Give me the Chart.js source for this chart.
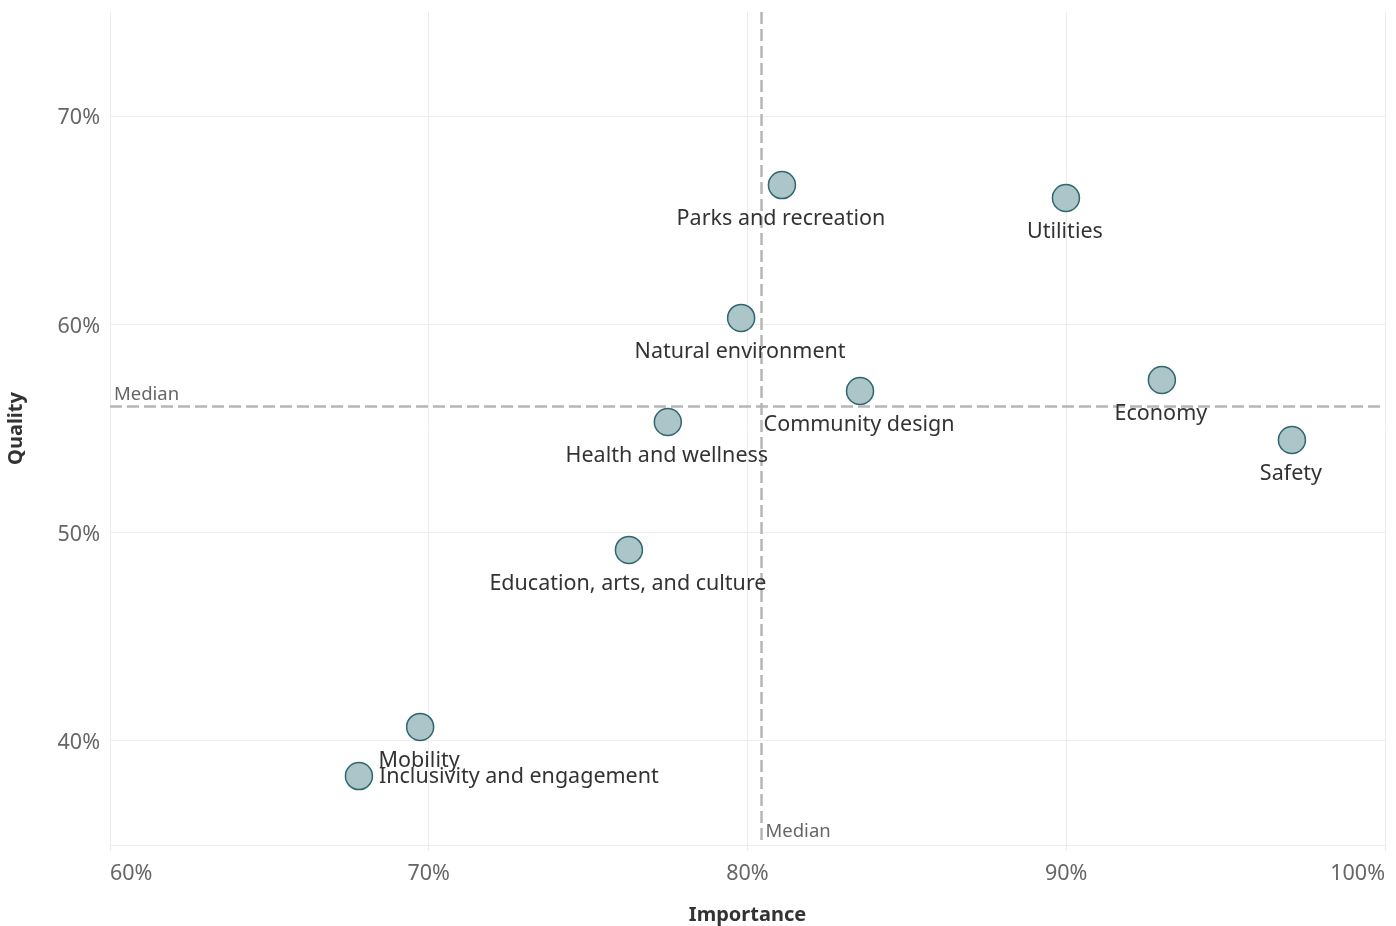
<!DOCTYPE html>
<html>
<head>
<meta charset="utf-8">
<script src="https://cdn.jsdelivr.net/npm/chart.js@4"></script>
<style>
  html, body { margin: 0; padding: 0; background: #fff; }
  #wrap { width: 1396px; height: 926px; position: relative; }
</style>
</head>
<body>
<div id="wrap"><canvas id="qualityChart"></canvas></div>
<script>
// values (percent)
const categories = ["Parks and recreation", "Utilities", "Natural environment", "Community design",
  "Economy", "Safety", "Health and wellness", "Education, arts, and culture", "Mobility",
  "Inclusivity and engagement"];
const importance = [81.08, 89.99, 79.8, 83.53, 93.0, 97.08, 77.5, 76.28, 69.73, 67.81];
const quality = [66.69, 66.07, 60.31, 56.8, 57.33, 54.45, 55.31, 49.17, 40.67, 38.31];
const xTicks = [60, 70, 80, 90, 100];
const yTicks = [40, 50, 60, 70];

function median(arr) {
  const s = [...arr].sort((a, b) => a - b);
  const m = Math.floor(s.length / 2);
  return s.length % 2 ? s[m] : (s[m - 1] + s[m]) / 2;
}
const medImportance = median(importance);
const medQuality = median(quality);

const FONT = "'Noto Sans', 'DejaVu Sans', sans-serif";

// median reference lines + their labels
const medianLines = {
  id: 'medianLines',
  afterDatasetsDraw(chart) {
    const { ctx, chartArea: a, scales: { x, y } } = chart;
    const mx = x.getPixelForValue(medImportance);
    const my = y.getPixelForValue(medQuality);
    ctx.save();
    ctx.strokeStyle = '#b6b6b6';
    ctx.lineWidth = 2.5;
    ctx.setLineDash([12, 5]);
    ctx.beginPath();
    ctx.moveTo(a.left, my); ctx.lineTo(a.right, my);
    ctx.moveTo(mx, a.top); ctx.lineTo(mx, a.bottom);
    ctx.stroke();
    ctx.setLineDash([]);
    ctx.fillStyle = '#666';
    ctx.font = `18.5px ${FONT}`;
    ctx.textBaseline = 'bottom';
    ctx.textAlign = 'left';
    ctx.fillText('Median', a.left + 4, my - 3);
    ctx.textBaseline = 'middle';
    ctx.fillText('Median', mx + 4, a.bottom - 13);
    ctx.restore();
  }
};

// text labels for every point
const pointLabels = {
  id: 'pointLabels',
  afterDatasetsDraw(chart) {
    const { ctx } = chart;
    const meta = chart.getDatasetMeta(0);
    ctx.save();
    ctx.fillStyle = '#333';
    ctx.font = `21.5px ${FONT}`;
    ctx.textBaseline = 'middle';
    meta.data.forEach((pt, i) => {
      const name = categories[i];
      if (name === 'Inclusivity and engagement') {
        ctx.textAlign = 'left';
        ctx.fillText(name, pt.x + 20, pt.y + 1);
      } else {
        ctx.textAlign = 'center';
        ctx.fillText(name, pt.x - 1, pt.y + 34);
      }
    });
    ctx.restore();
  }
};

new Chart(document.getElementById('qualityChart'), {
  type: 'scatter',
  data: {
    datasets: [{
      label: 'Quality vs importance',
      data: importance.map((v, i) => ({ x: v, y: quality[i] })),
      backgroundColor: '#abc5c8',
      borderColor: '#2f6670',
      borderWidth: 1.5,
      pointRadius: 13.5,
      pointHoverRadius: 13.5
    }]
  },
  options: {
    responsive: true,
    maintainAspectRatio: false,
    animation: false,
    layout: { autoPadding: false, padding: { top: 12, right: 11, left: 0, bottom: 0 } },
    plugins: {
      legend: { display: false },
      tooltip: { enabled: false }
    },
    scales: {
      x: {
        type: 'linear',
        min: 60, max: 100,
        afterBuildTicks: s => { s.ticks = xTicks.map(v => ({ value: v })); },
        afterFit: s => { s.height = 81; s.paddingLeft = 0; s.paddingRight = 0; },
        ticks: {
          align: 'inner',
          color: '#666',
          font: { family: FONT, size: 21.5 },
          padding: 10,
          maxRotation: 0,
          callback: v => v + '%'
        },
        grid: { color: '#ececec', lineWidth: 1, tickLength: 6, drawTicks: true },
        border: { display: true, color: '#ececec' },
        title: {
          display: true, text: 'Importance', color: '#333',
          font: { family: FONT, size: 20, weight: 'bold' }, padding: { top: 0, bottom: -1 }
        }
      },
      y: {
        type: 'linear',
        min: 35, max: 75,
        afterBuildTicks: s => { s.ticks = yTicks.map(v => ({ value: v })); },
        afterFit: s => { s.width = 110; s.paddingTop = 0; s.paddingBottom = 0; },
        ticks: {
          color: '#666',
          font: { family: FONT, size: 21.5 },
          padding: 10,
          labelOffset: 2,
          callback: v => v + '%'
        },
        grid: { color: '#ececec', lineWidth: 1, drawTicks: false },
        border: { display: true, color: '#ececec' },
        title: {
          display: true, text: 'Quality', color: '#333',
          font: { family: FONT, size: 20, weight: 'bold' }, padding: { bottom: 0 }
        }
      }
    }
  },
  plugins: [medianLines, pointLabels]
});
</script>
</body>
</html>
